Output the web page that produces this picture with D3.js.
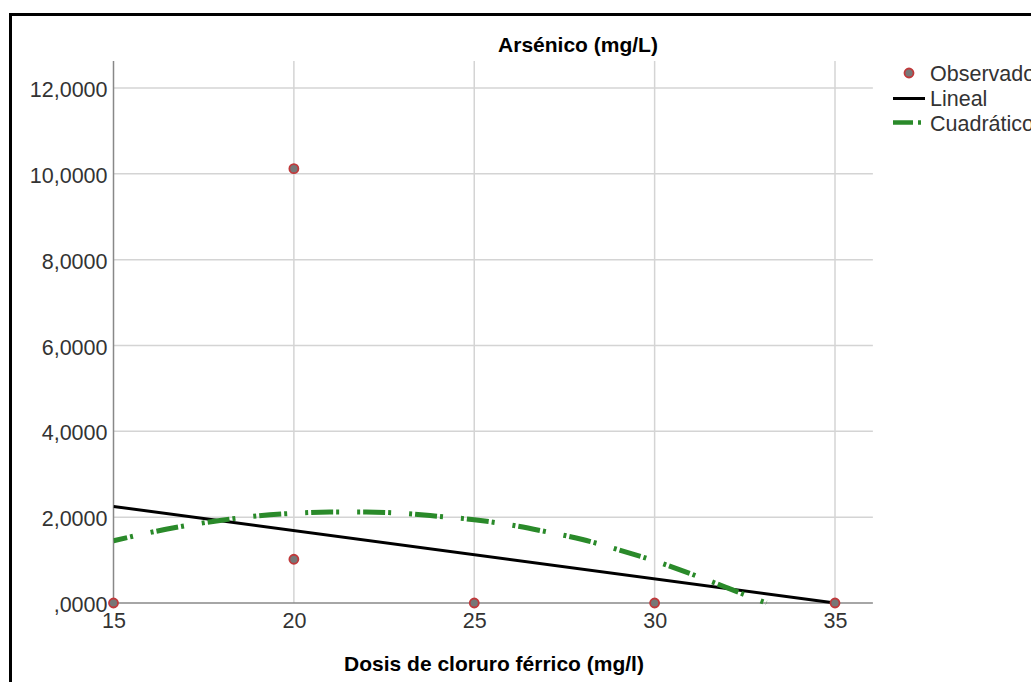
<!DOCTYPE html>
<meta charset="utf-8">
<style>
body { margin: 0; background: #fff; }
text { font-family: "Liberation Sans", Arial, sans-serif; }
.grid line { stroke: #d4d4d4; stroke-width: 1.5px; }
.tick-label { fill: #333; font-size: 21.5px; }
</style>
<body>
<svg width="1031" height="682"></svg>
<script src="https://d3js.org/d3.v7.min.js"></script>
<script>

// data
var obsX = [15, 20, 20, 25, 30, 35];
var obsY = [0, 10.12, 1.02, 0, 0, 0];
var linX = [15, 35];
var linY = [2.25, 0];
var quadX = [15, 16, 17, 18, 19, 20, 21, 22, 23, 24, 25, 26, 27, 28, 29, 30, 31, 32, 33, 33.1];
var quadY = [1.45, 1.64, 1.80, 1.93, 2.03, 2.09, 2.12, 2.12, 2.09, 2.02, 1.94, 1.82, 1.66, 1.48, 1.24, 0.98, 0.68, 0.36, 0.03, 0];
var xTicks = [15, 20, 25, 30, 35];
var yTicks = [0, 2, 4, 6, 8, 10, 12];
var legendLabels = ["Observado", "Lineal", "Cuadrático"];

var svg = d3.select("svg");

// outer frame
svg.append("rect")
    .attr("x", 10.5).attr("y", 14.5)
    .attr("width", 1040).attr("height", 700)
    .attr("fill", "none").attr("stroke", "#000").attr("stroke-width", 3);

var x = d3.scaleLinear().domain([15, 35]).range([113.5, 835]);
var y = d3.scaleLinear().domain([0, 12]).range([603, 88]);
var xMax = 36.05, yMax = 12.63;

// gridlines
var grid = svg.append("g").attr("class", "grid");
grid.selectAll(".gy").data(yTicks.slice(1)).enter().append("line")
    .attr("x1", x(15)).attr("x2", x(xMax))
    .attr("y1", function(d) { return y(d); }).attr("y2", function(d) { return y(d); });
grid.selectAll(".gx").data(xTicks.slice(1)).enter().append("line")
    .attr("x1", function(d) { return x(d); }).attr("x2", function(d) { return x(d); })
    .attr("y1", y(0)).attr("y2", y(yMax));

// axes
var fmt = function(d) { return d === 0 ? ",0000" : d3.format(".4f")(d).replace(".", ","); };

var yAxis = svg.append("g")
    .attr("transform", "translate(" + x(15) + ",0)")
    .call(d3.axisLeft(y).tickValues(yTicks).tickFormat(fmt).tickSize(0).tickPadding(6));
yAxis.select(".domain").remove();
yAxis.selectAll("text").attr("class", "tick-label").attr("font-family", null).attr("font-size", null)
    .attr("dy", "0.4em");

var xAxis = svg.append("g")
    .attr("transform", "translate(0," + y(0) + ")")
    .call(d3.axisBottom(x).tickValues(xTicks).tickSize(0).tickPadding(10));
xAxis.select(".domain").remove();
xAxis.selectAll("text").attr("class", "tick-label").attr("font-family", null).attr("font-size", null);

svg.append("line")
    .attr("x1", x(15)).attr("x2", x(15)).attr("y1", y(0)).attr("y2", y(yMax))
    .attr("stroke", "#888").attr("stroke-width", 1.5);
svg.append("line")
    .attr("x1", x(15)).attr("x2", x(xMax)).attr("y1", y(0)).attr("y2", y(0))
    .attr("stroke", "#888").attr("stroke-width", 1.5);

// clip for fit lines
svg.append("clipPath").attr("id", "plot")
  .append("rect").attr("x", x(15)).attr("y", y(yMax))
    .attr("width", x(xMax) - x(15)).attr("height", y(0) - y(yMax) + 2);

var line = d3.line()
    .x(function(d) { return x(d[0]); })
    .y(function(d) { return y(d[1]); });

svg.append("path")
    .datum(d3.zip(linX, linY))
    .attr("clip-path", "url(#plot)")
    .attr("d", line)
    .attr("fill", "none").attr("stroke", "#000").attr("stroke-width", 3);

svg.append("path")
    .datum(d3.zip(quadX, quadY))
    .attr("clip-path", "url(#plot)")
    .attr("d", line.curve(d3.curveMonotoneX))
    .attr("fill", "none").attr("stroke", "#2a8a2a").attr("stroke-width", 5)
    .attr("stroke-dasharray", "22,3,3,18,3,3")
    .attr("stroke-dashoffset", 8);

// observed points
svg.selectAll(".pt").data(d3.zip(obsX, obsY)).enter().append("circle")
    .attr("cx", function(d) { return x(d[0]); })
    .attr("cy", function(d) { return y(d[1]); })
    .attr("r", 4.5)
    .attr("fill", "#777").attr("stroke", "#c0393b").attr("stroke-width", 1.8);

// titles
svg.append("text")
    .attr("x", 578).attr("y", 52)
    .attr("text-anchor", "middle")
    .attr("font-size", "21px").attr("font-weight", "bold")
    .text("Arsénico (mg/L)");

svg.append("text")
    .attr("x", 494).attr("y", 671)
    .attr("text-anchor", "middle")
    .attr("font-size", "21px").attr("font-weight", "bold")
    .text("Dosis de cloruro férrico (mg/l)");

// legend (cut off at the right edge, as in the original)
var leg = svg.append("g");
leg.append("circle").attr("cx", 909).attr("cy", 73).attr("r", 4.5)
    .attr("fill", "#777").attr("stroke", "#c0393b").attr("stroke-width", 1.8);
leg.append("line").attr("x1", 893).attr("x2", 925).attr("y1", 98.5).attr("y2", 98.5)
    .attr("stroke", "#000").attr("stroke-width", 3);
leg.append("line").attr("x1", 893).attr("x2", 925).attr("y1", 122.5).attr("y2", 122.5)
    .attr("stroke", "#2a8a2a").attr("stroke-width", 4.5).attr("stroke-dasharray", "20,5,3,20");
leg.selectAll(".lt").data(legendLabels).enter().append("text")
    .attr("x", 930)
    .attr("y", function(d, i) { return 81 + i * 25; })
    .attr("font-size", "21.5px").attr("fill", "#333")
    .text(function(d) { return d; });

</script>
</body>
